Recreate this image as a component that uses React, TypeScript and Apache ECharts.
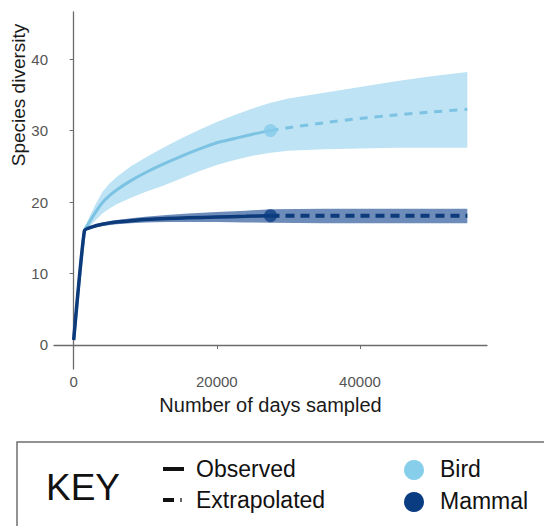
import React, { useEffect, useRef } from "react";
import * as echarts from "echarts";

// ---- Data ----
const birdObsX = [0, 1500, 2000, 3000, 4000, 5000, 6000, 8000, 10000, 12500, 15000, 17500, 20000, 22500, 25000, 27500];
const birdObsY = [0.7, 16.0, 16.9, 18.5, 19.9, 20.9, 21.7, 23.0, 24.1, 25.3, 26.4, 27.4, 28.3, 28.9, 29.5, 30.0];
const birdObsUp = [0.7, 16.3, 17.5, 19.6, 21.4, 22.6, 23.5, 25.0, 26.2, 27.6, 28.9, 30.1, 31.2, 32.2, 33.1, 33.9];
const birdObsLo = [0.7, 15.7, 16.3, 17.4, 18.4, 19.1, 19.7, 20.6, 21.4, 22.3, 23.3, 24.3, 25.2, 25.9, 26.5, 26.9];

const birdExtX = [27500, 30000, 35000, 40000, 45000, 50000, 55000];
const birdExtY = [30.0, 30.4, 31.1, 31.7, 32.2, 32.6, 33.0];
const birdExtUp = [33.9, 34.5, 35.3, 36.1, 36.9, 37.6, 38.2];
const birdExtLo = [26.9, 27.2, 27.4, 27.5, 27.6, 27.6, 27.6];

const mamObsX = [0, 1500, 2500, 4000, 6000, 8000, 10000, 13000, 16000, 20000, 24000, 27500];
const mamObsY = [0.7, 16.0, 16.5, 16.9, 17.2, 17.4, 17.55, 17.7, 17.8, 17.9, 18.0, 18.1];
const mamObsUp = [0.7, 16.1, 16.7, 17.15, 17.5, 17.75, 17.95, 18.2, 18.4, 18.6, 18.8, 19.0];
const mamObsLo = [0.7, 15.9, 16.3, 16.65, 16.9, 17.05, 17.15, 17.2, 17.2, 17.2, 17.15, 17.1];

const mamExtX = [27500, 35000, 45000, 55000];
const mamExtY = [18.1, 18.1, 18.1, 18.1];
const mamExtUp = [19.0, 19.05, 19.05, 19.05];
const mamExtLo = [17.1, 17.05, 17.05, 17.05];

const xTicks = [0, 20000, 40000];
const yTicks = [0, 10, 20, 30, 40];

const FONT = '"Liberation Sans", Arial, Helvetica, sans-serif';
const BIRD_BAND = "#bde3f4";
const BIRD_LINE = "#7cc3e3";
const BIRD_DOT = "#86cbea";
const MAM_BAND = "#6d8cb9";
const MAM_LINE = "#0c3a7a";
const MAM_DOT = "#0b3d82";

const zip = (xs: number[], ys: number[]) => xs.map((x, i) => [x, ys[i]]);

function band(xs: number[], up: number[], lo: number[], color: string, z: number) {
  return {
    type: "custom",
    silent: true,
    z,
    data: [[xs[0], up[0]]],
    renderItem: (_p: any, api: any) => {
      const top = xs.map((x, i) => api.coord([x, up[i]]));
      const bottom = xs.map((x, i) => api.coord([x, lo[i]])).reverse();
      return {
        type: "polygon",
        shape: { points: top.concat(bottom) },
        style: { fill: color, stroke: null },
      };
    },
  };
}

export default function App() {
  const ref = useRef<HTMLDivElement>(null);
  useEffect(() => {
    if (!ref.current) return;
    const chart = echarts.init(ref.current, null, { renderer: "svg" });
    const birdX = birdObsX.concat(birdExtX.slice(1));
    const birdUp = birdObsUp.concat(birdExtUp.slice(1));
    const birdLo = birdObsLo.concat(birdExtLo.slice(1));
    const mamX = mamObsX.concat(mamExtX.slice(1));
    const mamUp = mamObsUp.concat(mamExtUp.slice(1));
    const mamLo = mamObsLo.concat(mamExtLo.slice(1));

    const axisColor = "#6b6b6b";
    const option: any = {
      animation: false,
      textStyle: { fontFamily: FONT },
      grid: { left: 54, top: 12, width: 433, height: 357, containLabel: false },
      xAxis: {
        type: "value",
        min: -2750,
        max: 57750,
        name: "Number of days sampled",
        nameLocation: "middle",
        nameGap: 26,
        nameTextStyle: { fontSize: 20, color: "#1a1a1a", fontFamily: FONT },
        axisLine: { show: true, lineStyle: { color: axisColor, width: 1.3 } },
        axisTick: { show: true, length: 4, customValues: xTicks, lineStyle: { color: axisColor } },
        axisLabel: {
          customValues: xTicks,
          fontSize: 15,
          color: "#555",
          margin: 5,
          fontFamily: FONT,
          formatter: (v: number) => String(v),
        },
        splitLine: { show: false },
      },
      yAxis: {
        type: "value",
        min: -3.36,
        max: 46.6,
        axisLine: { show: true, lineStyle: { color: axisColor, width: 1.3 } },
        axisTick: { show: true, length: 4, customValues: yTicks, lineStyle: { color: axisColor } },
        axisLabel: {
          customValues: yTicks,
          fontSize: 15,
          color: "#555",
          margin: 6,
          fontFamily: FONT,
          formatter: (v: number) => String(v),
        },
        splitLine: { show: false },
      },
      graphic: [
        {
          type: "text",
          x: 18,
          y: 95,
          rotation: Math.PI / 2,
          style: {
            text: "Species diversity",
            font: `19px ${FONT}`,
            fill: "#1a1a1a",
            textAlign: "center",
            textVerticalAlign: "middle",
          },
        },
        {
          type: "rect",
          shape: { x: 17, y: 442, width: 600, height: 200 },
          style: { fill: "none", stroke: "#6f6f6f", lineWidth: 1.5 },
        },
        {
          type: "text",
          x: 46,
          y: 487,
          style: { text: "KEY", font: `37px ${FONT}`, fill: "#111", textVerticalAlign: "middle" },
        },
        {
          type: "line",
          shape: { x1: 163, y1: 469, x2: 184, y2: 469 },
          style: { stroke: "#111", lineWidth: 4 },
        },
        {
          type: "line",
          shape: { x1: 163, y1: 500, x2: 174, y2: 500 },
          style: { stroke: "#111", lineWidth: 4 },
        },
        {
          type: "line",
          shape: { x1: 181, y1: 498, x2: 181, y2: 502 },
          style: { stroke: "#333", lineWidth: 1.5 },
        },
        {
          type: "text",
          x: 196,
          y: 469,
          style: { text: "Observed", font: `23px ${FONT}`, fill: "#111", textVerticalAlign: "middle" },
        },
        {
          type: "text",
          x: 196,
          y: 500,
          style: { text: "Extrapolated", font: `23px ${FONT}`, fill: "#111", textVerticalAlign: "middle" },
        },
        {
          type: "circle",
          shape: { cx: 414, cy: 470, r: 10 },
          style: { fill: "#87ceeb" },
        },
        {
          type: "circle",
          shape: { cx: 414, cy: 502, r: 10 },
          style: { fill: "#0a3c82" },
        },
        {
          type: "text",
          x: 440,
          y: 469,
          style: { text: "Bird", font: `23px ${FONT}`, fill: "#111", textVerticalAlign: "middle" },
        },
        {
          type: "text",
          x: 440,
          y: 501,
          style: { text: "Mammal", font: `23px ${FONT}`, fill: "#111", textVerticalAlign: "middle" },
        },
      ],
      series: [
        band(birdX, birdUp, birdLo, BIRD_BAND, 1),
        {
          type: "line",
          z: 2,
          data: zip(birdObsX, birdObsY),
          showSymbol: false,
          smooth: 0.2,
          lineStyle: { color: BIRD_LINE, width: 3 },
        },
        {
          type: "line",
          z: 2,
          data: zip(birdExtX, birdExtY),
          showSymbol: false,
          smooth: 0.2,
          lineStyle: { color: BIRD_LINE, width: 3, type: [8, 7] },
        },
        band(mamX, mamUp, mamLo, MAM_BAND, 3),
        {
          type: "line",
          z: 4,
          data: zip(mamObsX, mamObsY),
          showSymbol: false,
          smooth: 0.15,
          lineStyle: { color: MAM_LINE, width: 3.5 },
        },
        {
          type: "line",
          z: 4,
          data: zip(mamExtX, mamExtY),
          showSymbol: false,
          lineStyle: { color: MAM_LINE, width: 4, type: [9, 6] },
        },
        {
          type: "scatter",
          z: 5,
          data: [[birdObsX[birdObsX.length - 1], birdObsY[birdObsY.length - 1]]],
          symbolSize: 13,
          itemStyle: { color: BIRD_DOT },
        },
        {
          type: "scatter",
          z: 5,
          data: [[mamObsX[mamObsX.length - 1], mamObsY[mamObsY.length - 1]]],
          symbolSize: 13,
          itemStyle: { color: MAM_DOT },
        },
      ],
    };
    chart.setOption(option);
    return () => chart.dispose();
  }, []);
  return (
    <div
      ref={ref}
      style={{ position: "absolute", left: 0, top: 0, width: 544, height: 526, background: "#fff" }}
    />
  );
}
